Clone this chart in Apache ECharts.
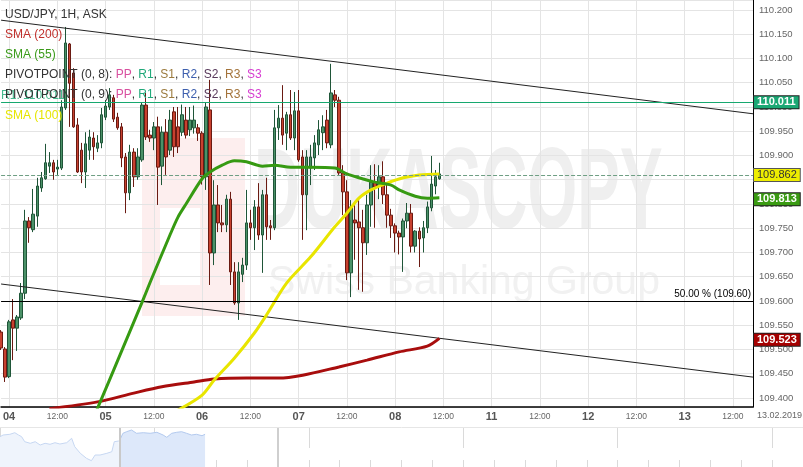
<!DOCTYPE html>
<html><head><meta charset="utf-8">
<script src="https://cdn.jsdelivr.net/npm/echarts@6/dist/echarts.min.js"></script>
<style>html,body{margin:0;padding:0;background:#fff}#c{width:803px;height:467px}</style>
</head><body><div id="c"></div>
<script>
// ---- categories: hourly slots, 0 = 04 Feb 00:00 (weekend collapsed) ----
const firstHour = -2, lastHour = 185;
const hours = [];
for (let h = firstHour; h <= lastHour; h++) hours.push(String(h));
const dayNames = ['04','05','06','07','08','11','12','13'];
const dateLabel = '13.02.2019';

// ---- candles (hours -2 .. 107) ----
const opens = [
109.536,109.501,109.444,109.561,109.544,109.565,109.616,109.765,109.747,109.775,
109.833,109.852,109.878,109.885,109.872,109.874,109.998,110.130,110.070,109.963,
109.911,109.866,109.911,109.936,109.915,109.926,109.979,110.000,110.019,109.979,
109.959,109.897,109.823,109.907,109.856,109.891,110.004,109.942,109.936,109.959,
109.878,109.948,109.911,109.990,109.959,109.948,109.973,109.953,109.957,109.957,
109.946,109.856,109.994,109.699,109.798,109.761,109.757,109.810,109.660,109.596,
109.655,109.674,109.761,109.751,109.794,109.736,109.819,109.755,109.751,109.957,
109.977,109.946,109.984,109.936,109.992,109.897,109.819,109.874,109.895,109.922,
109.947,109.973,109.922,110.025,110.014,109.864,109.825,109.658,109.767,109.763,
109.751,109.720,109.798,109.845,109.837,109.856,109.819,109.777,109.755,109.740,
109.732,109.765,109.781,109.713,109.744,109.730,109.751,109.792,109.837,109.852];
const closes = [
109.503,109.443,109.557,109.544,109.567,109.616,109.765,109.751,109.779,109.837,
109.854,109.885,109.885,109.866,109.876,110.000,110.132,110.049,109.959,109.866,
109.866,109.924,109.938,109.918,109.926,109.984,110.002,110.025,109.975,109.957,
109.895,109.823,109.907,109.856,109.897,110.004,109.938,109.936,109.959,109.876,
109.948,109.897,109.973,109.918,109.918,109.984,109.942,109.973,109.973,109.946,
109.856,110.000,109.699,109.798,109.761,109.757,109.810,109.660,109.596,109.660,
109.674,109.761,109.751,109.794,109.736,109.819,109.753,109.751,109.957,109.977,
109.942,109.984,109.936,109.992,109.891,109.819,109.897,109.897,109.926,109.953,
109.959,109.926,110.029,110.014,109.864,109.825,109.658,109.794,109.761,109.751,
109.720,109.798,109.845,109.835,109.856,109.819,109.777,109.755,109.740,109.732,
109.765,109.781,109.713,109.744,109.728,109.751,109.794,109.841,109.856,109.862];
const lows = [
109.499,109.433,109.441,109.478,109.497,109.561,109.604,109.720,109.742,109.753,
109.825,109.850,109.864,109.850,109.860,109.870,109.994,109.959,109.957,109.864,
109.843,109.833,109.891,109.891,109.907,109.915,109.973,109.994,109.969,109.953,
109.876,109.781,109.808,109.835,109.850,109.887,109.932,109.928,109.911,109.798,
109.839,109.860,109.901,109.897,109.905,109.940,109.935,109.940,109.945,109.930,
109.840,109.829,109.633,109.674,109.742,109.742,109.742,109.633,109.592,109.561,
109.639,109.664,109.726,109.705,109.726,109.658,109.726,109.726,109.746,109.932,
109.922,109.911,109.932,109.911,109.887,109.726,109.746,109.839,109.870,109.901,
109.911,109.915,109.915,110.000,109.860,109.777,109.643,109.608,109.685,109.623,
109.619,109.695,109.753,109.751,109.810,109.800,109.751,109.730,109.700,109.696,
109.660,109.750,109.700,109.700,109.670,109.700,109.740,109.785,109.820,109.850];
const highs = [
109.540,109.505,109.561,109.604,109.571,109.637,109.788,109.773,109.831,109.854,
109.866,109.924,109.907,109.891,109.891,110.014,110.165,110.132,110.080,109.977,
109.926,109.948,109.953,109.948,109.942,109.998,110.014,110.039,110.025,109.988,
109.967,109.905,109.922,109.915,109.915,110.010,110.029,109.953,109.969,109.980,
109.960,109.975,109.994,110.000,110.000,110.005,110.000,110.000,110.003,109.965,
109.950,110.010,110.056,109.849,109.839,109.798,109.819,109.825,109.680,109.680,
109.689,109.829,109.788,109.808,109.843,109.829,109.854,109.767,109.994,110.004,
110.045,109.990,110.035,110.031,110.035,109.911,109.911,109.922,109.942,109.973,
109.983,109.994,110.089,110.035,110.021,109.880,109.849,109.808,109.798,109.808,
109.788,109.819,109.880,109.882,109.880,109.888,109.840,109.790,109.760,109.745,
109.770,109.802,109.800,109.746,109.752,109.765,109.805,109.899,109.870,109.885];

// ---- moving averages (read at sample hours) ----
const sma55Hours = [21,22,28,33,35,40,42,44,48,50,53,56,59,63,66,70,75,81,84,87,91,95,97,101,104,107];
const sma55Vals  = [109.360,109.379,109.497,109.596,109.637,109.736,109.773,109.800,109.852,109.866,109.880,109.889,109.887,109.878,109.880,109.876,109.876,109.874,109.862,109.854,109.845,109.839,109.829,109.816,109.812,109.813];
const sma100Hours = [42,48,51,56,61,64,69,75,81,84,87,90,94,98,102,107];
const sma100Vals  = [109.375,109.406,109.437,109.482,109.534,109.571,109.637,109.691,109.753,109.781,109.812,109.829,109.843,109.854,109.860,109.862];
const sma200Hours = [10,22,31,38,46,51,59,67,73,82,89,97,104,107];
const sma200Vals  = [109.378,109.392,109.410,109.423,109.433,109.439,109.441,109.441,109.447,109.464,109.478,109.495,109.507,109.523];

// ---- levels / trend lines ----
const r1Level = 110.011;
const lastPrice = 109.862;
const fibLevel = 109.60;
const fibText = '50.00 % (109.60)';
const trendHours = ['-2','185'];
const upperTrend = [110.179, 109.986];
const lowerTrend = [109.635, 109.443];

// ---- navigator overview ----
const navU = [0,0.5,1.6,2.4,3.0,3.5,4.0,4.9,5.7,6.5,7.3,8.1,8.9,9.7,10.8,11.6,12.1,13.0,14.0,14.8,15.4,16.2,17.3,18.1,18.5,19.2,19.4,19.9,20.5,21.3,22.1,23.2,24.3,25.4,26.4,27.0,27.8,28.6,29.4,30.2,31.0,31.8,32.7,33.2];
const navV = [30.3,32,32.7,34.3,32,30.3,25.3,23.7,25.3,22,23.7,22.7,24.3,23,24.3,28.7,20.3,13.7,8.7,6.3,12,12,13.7,15.3,25.3,26,27,33.7,35.3,37,33.7,34.3,33.7,34.7,32,29.7,33.7,34.7,35.3,33.7,32,32.7,31.3,32.7];
const navSplit = 26;

const FONT = '"Liberation Sans", Arial, sans-serif';
const candleData = opens.map((o, i) => [o, closes[i], lows[i], highs[i]]);
const pairs = (hs, vs) => hs.map((h, i) => [String(h), vs[i]]);
const navA = navU.slice(0, navSplit + 1).map((u, i) => [u, navV[i]]);
const navB = navU.slice(navSplit).map((u, i) => [u, navV[i + navSplit]]);

function badge(bg, fg, bold) {
  return {show: true, position: 'end', distance: 1, backgroundColor: bg, color: fg,
    fontWeight: bold ? 'bold' : 'normal', fontSize: 11, fontFamily: FONT,
    padding: [1, 3, 0, 3], borderColor: '#222', borderWidth: 1};
}
const hideLine = {width: 0, color: 'rgba(0,0,0,0)'};
const every12 = (i, v) => (+v) >= 0 && (+v) % 12 === 0;

const chart = echarts.init(document.getElementById('c'), null, {renderer: 'canvas', width: 803, height: 467});
chart.setOption({
  animation: false,
  backgroundColor: '#fff',
  textStyle: {fontFamily: FONT},
  grid: [
    {left: 0, right: 50, top: 0, bottom: 60},
    {left: 0, right: 0, top: 428, height: 39}
  ],
  xAxis: [
    {type: 'category', gridIndex: 0, data: hours, boundaryGap: false,
     axisLine: {lineStyle: {color: '#000', width: 1.5}},
     axisTick: {show: false},
     axisLabel: {interval: every12, margin: 3,
       formatter: v => (+v) % 24 === 0 ? '{d|' + dayNames[(+v) / 24] + '}' : '{t|12:00}',
       rich: {d: {fontSize: 11, fontWeight: 'bold', color: '#555', lineHeight: 14},
              t: {fontSize: 8.5, color: '#666', lineHeight: 14}}},
     splitLine: {show: true, interval: every12, lineStyle: {color: '#e4e4e4'}}},
    {type: 'value', gridIndex: 1, min: 0, max: 130, interval: 5,
     axisLine: {show: false}, axisLabel: {show: false}, splitLine: {show: false},
     axisTick: {show: true, inside: true, length: 7, lineStyle: {color: '#dadada'}}},
    {type: 'value', gridIndex: 1, min: 0, max: 130, interval: 25,
     axisLine: {show: false}, axisLabel: {show: false}, splitLine: {show: false},
     axisTick: {show: true, inside: true, length: 20, lineStyle: {color: '#dadada'}}}
  ],
  yAxis: [
    {type: 'value', gridIndex: 0, position: 'right', min: 109.3814, max: 110.2206,
     splitNumber: 17, minInterval: 0.05, maxInterval: 0.05,
     axisLine: {show: true, lineStyle: {color: '#000'}},
     axisTick: {show: false},
     axisLabel: {color: '#666', fontSize: 9.5, margin: 6, showMinLabel: false, showMaxLabel: false,
       formatter: v => v.toFixed(3)},
     splitLine: {lineStyle: {color: '#e4e4e4'}}},
    {type: 'value', gridIndex: 1, min: 0, max: 39, show: false}
  ],
  series: [
    {type: 'line', name: 'upper', xAxisIndex: 0, yAxisIndex: 0, data: pairs(trendHours, upperTrend),
     showSymbol: false, lineStyle: {color: '#222', width: 1}, z: 3},
    {type: 'line', name: 'lower', xAxisIndex: 0, yAxisIndex: 0, data: pairs(trendHours, lowerTrend),
     showSymbol: false, lineStyle: {color: '#222', width: 1}, z: 3},
    {type: 'candlestick', name: 'USD/JPY', xAxisIndex: 0, yAxisIndex: 0, data: candleData,
     barWidth: 3,
     itemStyle: {color: '#4b9168', color0: '#c8412f', borderColor: '#1f5538', borderColor0: '#6a1a12', borderWidth: 1},
     markLine: {symbol: 'none', silent: true, animation: false, data: [
       {yAxis: r1Level, lineStyle: {color: '#17a86f', width: 1, type: 'solid'},
        label: Object.assign(badge('#1aa874', '#fff', true), {formatter: r1Level.toFixed(3)})},
       {yAxis: r1Level, lineStyle: hideLine,
        label: {show: true, position: 'insideStartTop', distance: 0, formatter: 'R1: ' + r1Level.toFixed(3),
          color: '#45b98e', fontSize: 12, fontFamily: FONT}},
       {yAxis: lastPrice, lineStyle: {color: '#6f9f84', width: 1, type: 'dashed'},
        label: Object.assign(badge('#eeee00', '#333', false), {formatter: lastPrice.toFixed(3), borderColor: '#555'})},
       {yAxis: fibLevel, lineStyle: {color: '#000', width: 1, type: 'solid'},
        label: {show: true, position: 'insideEndTop', distance: 2, formatter: fibText, color: '#000', fontSize: 10, fontFamily: FONT}}
     ]}},
    {type: 'line', name: 'SMA (200)', xAxisIndex: 0, yAxisIndex: 0, data: pairs(sma200Hours, sma200Vals),
     smooth: 0.3, showSymbol: false, lineStyle: {color: '#a80d0d', width: 3}, z: 4,
     markLine: {symbol: 'none', silent: true, animation: false, data: [
       {yAxis: sma200Vals[sma200Vals.length - 1], lineStyle: hideLine,
        label: Object.assign(badge('#a60000', '#fff', true), {formatter: sma200Vals[sma200Vals.length - 1].toFixed(3)})}]}},
    {type: 'line', name: 'SMA (100)', xAxisIndex: 0, yAxisIndex: 0, data: pairs(sma100Hours, sma100Vals),
     smooth: 0.3, showSymbol: false, lineStyle: {color: '#e8e500', width: 3}, z: 4},
    {type: 'line', name: 'SMA (55)', xAxisIndex: 0, yAxisIndex: 0, data: pairs(sma55Hours, sma55Vals),
     smooth: 0.3, showSymbol: false, lineStyle: {color: '#369a12', width: 3}, z: 5,
     markLine: {symbol: 'none', silent: true, animation: false, data: [
       {yAxis: sma55Vals[sma55Vals.length - 1], lineStyle: hideLine,
        label: Object.assign(badge('#3a9b12', '#fff', true), {formatter: sma55Vals[sma55Vals.length - 1].toFixed(3)})}]}},
    {type: 'line', name: 'navA', xAxisIndex: 1, yAxisIndex: 1, data: navA, showSymbol: false,
     lineStyle: {color: '#c6d7f2', width: 1}, areaStyle: {color: '#eff4fc', opacity: 1}},
    {type: 'line', name: 'navB', xAxisIndex: 1, yAxisIndex: 1, data: navB, showSymbol: false,
     lineStyle: {color: '#b3caef', width: 1}, areaStyle: {color: '#dde8fa', opacity: 1}}
  ],
  graphic: [
    {type: 'rect', z: -10, silent: true, shape: {x: 142, y: 138, width: 103, height: 178}, style: {fill: '#fdeeee'}},
    {type: 'rect', z: -9, silent: true, shape: {x: 160, y: 208, width: 40, height: 77}, style: {fill: '#fff'}},
    {type: 'text', z: -9, silent: true, x: 254, y: 196, scaleX: 0.556,
     style: {x: 0, y: 0, text: 'DUKASCOPY', fontSize: 115, fontWeight: 'bold', fontFamily: FONT, fill: '#efefef', verticalAlign: 'middle'}},
    {type: 'text', z: -9, silent: true, x: 268, y: 283,
     style: {text: 'Swiss Banking Group', fontSize: 41, fontFamily: FONT, fill: '#f1f1f1', verticalAlign: 'middle'}},
    {type: 'text', z: 20, x: 5, y: 15, style: {text: 'USD/JPY, 1H, ASK', fontSize: 12, fontFamily: FONT, fill: '#333', verticalAlign: 'middle'}},
    {type: 'text', z: 20, x: 5, y: 35, style: {text: 'SMA (200)', fontSize: 12, fontFamily: FONT, fill: '#c0302c', verticalAlign: 'middle'}},
    {type: 'text', z: 20, x: 5, y: 55, style: {text: 'SMA (55)', fontSize: 12, fontFamily: FONT, fill: '#3a9a1a', verticalAlign: 'middle'}},
    {type: 'text', z: 20, x: 5, y: 75, style: {
      text: '{k|PIVOTPOINT (0, 8): }{pp|PP}{k|, }{r1|R1}{k|, }{s1|S1}{k|, }{r2|R2}{k|, }{s2|S2}{k|, }{r3|R3}{k|, }{s3|S3}',
      fontSize: 12, fontFamily: FONT, verticalAlign: 'middle',
      rich: {k: {fill: '#333', fontSize: 12}, pp: {fill: '#d8509f', fontSize: 12}, r1: {fill: '#21a87a', fontSize: 12},
             s1: {fill: '#9b7a3d', fontSize: 12}, r2: {fill: '#3d5fae', fontSize: 12}, s2: {fill: '#57385a', fontSize: 12},
             r3: {fill: '#a3733a', fontSize: 12}, s3: {fill: '#d63dd0', fontSize: 12}}}},
    {type: 'text', z: 20, x: 5, y: 95, style: {
      text: '{k|PIVOTPOINT (0, 9): }{pp|PP}{k|, }{r1|R1}{k|, }{s1|S1}{k|, }{r2|R2}{k|, }{s2|S2}{k|, }{r3|R3}{k|, }{s3|S3}',
      fontSize: 12, fontFamily: FONT, verticalAlign: 'middle',
      rich: {k: {fill: '#333', fontSize: 12}, pp: {fill: '#d8509f', fontSize: 12}, r1: {fill: '#21a87a', fontSize: 12},
             s1: {fill: '#9b7a3d', fontSize: 12}, r2: {fill: '#3d5fae', fontSize: 12}, s2: {fill: '#57385a', fontSize: 12},
             r3: {fill: '#a3733a', fontSize: 12}, s3: {fill: '#d63dd0', fontSize: 12}}}},
    {type: 'text', z: 20, x: 5, y: 116, style: {text: 'SMA (100)', fontSize: 12, fontFamily: FONT, fill: '#e6e600', verticalAlign: 'middle'}},
    {type: 'text', z: 20, x: 757, y: 416, style: {text: dateLabel, fontSize: 9, fontFamily: FONT, fill: '#666', verticalAlign: 'middle'}},
    {type: 'line', z: 20, silent: true, shape: {x1: 0, y1: 427.5, x2: 803, y2: 427.5}, style: {stroke: '#e6e6e6', lineWidth: 1}},
    {type: 'rect', z: 20, silent: true, shape: {x: 119, y: 428, width: 2, height: 39}, style: {fill: '#c9c9c9'}},
    {type: 'rect', z: 20, silent: true, shape: {x: 277, y: 428, width: 2, height: 39}, style: {fill: '#cfcfcf'}}
  ]
});
</script></body></html>
